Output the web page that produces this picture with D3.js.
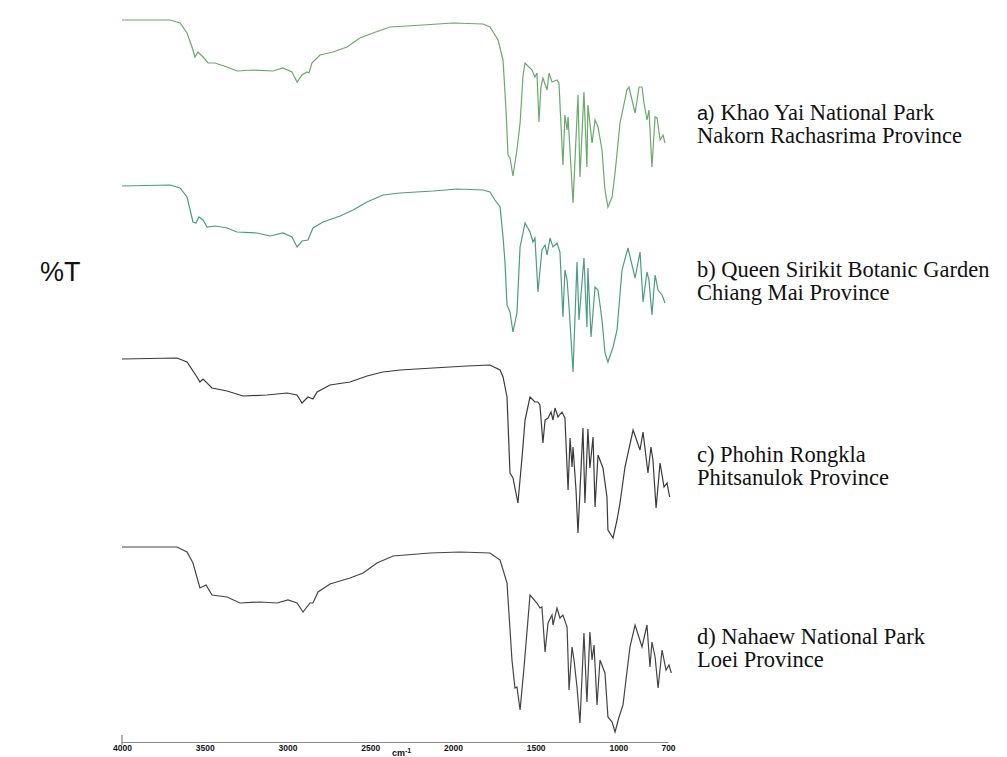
<!DOCTYPE html>
<html>
<head>
	<title>FT-IR spectra</title>
	<script src="https://d3js.org/d3.v7.min.js"></script>
	<style>
		body { margin: 0; background: #fff; }
		svg { display: block; }
	</style>
</head>
<body>
	<svg width="1007" height="757"></svg>

<script type="text/javascript">
	// wavenumbers (cm-1) and %T
	const wnA = [4000,3831,3710,3649,3607,3577,3559,3541,3510,3480,3438,3365,3305,3208,3087,3027,2973,2942,2912,2882,2870,2852,2803,2725,2640,2562,2483,2380,2277,2181,2000,1818,1776,1727,1697,1679,1667,1655,1637,1613,1594,1576,1564,1522,1504,1492,1480,1468,1456,1431,1419,1401,1371,1359,1335,1323,1310,1304,1274,1244,1232,1208,1190,1184,1159,1141,1123,1099,1081,1063,1038,1020,990,948,936,899,875,857,845,827,815,797,778,766,748,730,718];
	const tA  = [97.5,97.5,97.5,96,91,84,79,81.5,79,76,76,74,72,72.5,72,73.5,71.5,66.5,70,71.5,71,76,80,81.5,84,88.5,91,94,94.5,95,96,95.5,94,87.5,77.5,52.5,30,28.5,19.5,32.5,46,70,76,72.5,69,71,46.5,64,68.5,62.5,71,66.5,67.5,66,25,50,42.5,49,6,60,19,61.5,24,55,36,47.5,44,32.5,12.5,4,9,21,46,62.5,64,51,64,64,56,47.5,52.5,24,49,48.5,37.5,40,36];

	const wnB = [4000,3710,3649,3607,3571,3553,3535,3510,3486,3438,3365,3305,3184,3105,3027,2973,2942,2912,2876,2846,2785,2682,2604,2519,2423,2320,2120,1975,1818,1776,1746,1715,1697,1685,1673,1655,1637,1613,1594,1564,1534,1516,1504,1486,1462,1443,1431,1413,1395,1371,1353,1335,1323,1310,1298,1274,1250,1238,1208,1190,1184,1165,1141,1123,1099,1081,1063,1032,1008,978,942,899,869,851,827,815,797,778,760,736,718];
	const tB  = [97,97.5,96,91.5,79,78.5,81.5,80,76.5,77,76,74,73.5,72,73.5,71.5,66.5,69.5,70,76,79,82,85,89,92.5,93.5,94.5,95.5,95,94,90,86.5,71.5,58.5,37.5,34,24,33.5,66.5,78.5,74,69,71,44,65,67.5,62.5,71,66.5,68.5,64,31.5,55,50,36.5,4,59,30,61,26.5,56,21.5,46.5,45,30,13.5,9,16.5,25,55,66,51,64,39,54,50,32.5,52.5,45,42.5,38.5];

	const wnC = [4000,3668,3607,3547,3529,3510,3456,3365,3269,3124,3003,2942,2912,2876,2846,2821,2743,2622,2519,2423,2320,2120,1915,1776,1715,1697,1673,1655,1637,1607,1582,1564,1534,1504,1486,1474,1456,1443,1425,1407,1395,1383,1365,1341,1323,1304,1292,1280,1274,1256,1244,1214,1202,1184,1172,1153,1141,1123,1093,1069,1063,1032,1008,990,960,911,869,851,821,803,791,772,748,724,706,690];
	const tC  = [98,98.5,96.5,89,86.5,88,83.5,82,79.5,80,81,80,76,79,78,81.5,85,86.5,89.5,91.5,92.5,93.5,94.5,95,92.5,89,79,41,38.5,26,49,67.5,79,76.5,76.5,75,56,67.5,68.5,71.5,67.5,73.5,69,71.5,68.5,32.5,58.5,44,54,32.5,11,63.5,26,63,43.5,59,24,50,43.5,29,12.5,8.5,17.5,26,44,62.5,52.5,61.5,41,54,47.5,23.5,46,34,36,29];

	const wnD = [4000,3952,3668,3607,3571,3529,3492,3456,3365,3287,3166,3063,2997,2942,2906,2864,2846,2815,2743,2622,2543,2459,2362,2138,1957,1776,1715,1673,1643,1625,1613,1594,1570,1534,1492,1474,1462,1443,1425,1401,1395,1371,1353,1335,1310,1298,1280,1268,1250,1232,1208,1190,1172,1159,1147,1129,1111,1081,1063,1038,1020,996,972,954,930,899,857,827,809,797,778,760,736,712,694,680];
	const tD  = [96.5,96.5,96.5,94,88.5,76,77.5,72.5,71.5,68.5,69,68.5,70,68.5,64,68.5,68.5,74,78,81,83.5,88.5,92,93.5,94,93.5,90,78.5,40,26,26.5,15,36.5,72.5,68.5,66,66.5,44,58.5,62.5,57.5,66,61,62.5,56.5,25,46.5,40,26.5,8.5,53.5,19,54,40,47.5,17.5,40,33.5,11.5,9,4,11.5,17.5,30,46.5,57.5,46.5,57.5,36.5,49,41.5,26,45,35,37.5,33.5];

	const labelLine1 = ["Khao Yai National Park", "Queen Sirikit Botanic Garden", "Phohin Rongkla", "Nahaew National Park"];
	const labelLine2 = ["Nakorn Rachasrima Province", "Chiang Mai Province", "Phitsanulok Province", "Loei Province"];
	const labelTags = ["a)", "b)", "c)", "d)"];
	const xTicks = [4000, 3500, 3000, 2500, 2000, 1500, 1000, 700];

	const svg = d3.select("svg");
	svg.append("rect").attr("width", 1007).attr("height", 757).attr("fill", "#fff");

	const xscale = d3.scaleLinear().domain([4000, 700]).range([122, 668]);

	// each trace gets its own vertical band
	const panels = [
		{wn: wnA, t: tA, top: 15,  color: "#6aa86c"},
		{wn: wnB, t: tB, top: 180, color: "#4c9c84"},
		{wn: wnC, t: tC, top: 355, color: "#3a3a3a"},
		{wn: wnD, t: tD, top: 540, color: "#444444"}
	];

	panels.forEach(function(p, i) {
		const yscale = d3.scaleLinear().domain([0, 100]).range([p.top + 200, p.top]);
		const line = d3.line()
			.x((d, j) => xscale(p.wn[j]))
			.y(d => yscale(d));
		svg.append("path")
			.attr("d", line(p.t))
			.attr("fill", "none")
			.attr("stroke", p.color)
			.attr("stroke-width", 1.2);
	});

	// sample labels
	const serif = "'Liberation Serif', 'Times New Roman', serif";
	const labelY = [120, 277, 462, 644];
	labelY.forEach(function(y, i) {
		const t = svg.append("text")
			.attr("x", 697).attr("y", y)
			.style("font-family", serif)
			.style("font-size", "22.5px")
			.attr("fill", "#111");
		if (i == 0) {
			t.append("tspan").style("font-family", "'Liberation Sans', Arial, sans-serif").style("font-size", "20px").text(labelTags[i]);
			t.append("tspan").text(" " + labelLine1[i]);
		} else {
			t.text(labelTags[i] + " " + labelLine1[i]);
		}
		svg.append("text")
			.attr("x", 697).attr("y", y + 23)
			.style("font-family", serif)
			.style("font-size", "22.5px")
			.attr("fill", "#111")
			.text(labelLine2[i]);
	});

	svg.append("text")
		.attr("x", 40).attr("y", 281)
		.style("font-family", "'Liberation Sans', Arial, sans-serif")
		.style("font-size", "27px")
		.attr("fill", "#111")
		.text("%T");

	// x axis
	const xAxis = d3.axisBottom(xscale).tickValues(xTicks).tickSize(0).tickPadding(3).tickFormat(d3.format("d"));
	const gx = svg.append("g").attr("transform", "translate(0,742)").call(xAxis);
	gx.select(".domain").attr("stroke", "#888").attr("stroke-width", 1.2);
	gx.selectAll("text")
		.style("font-family", "'Liberation Sans', Arial, sans-serif")
		.style("font-size", "8.5px")
		.style("font-weight", "bold")
		.attr("fill", "#111");
	svg.append("line")
		.attr("x1", xscale(4000)).attr("x2", xscale(4000))
		.attr("y1", 735).attr("y2", 745)
		.attr("stroke", "#666");

	const unit = svg.append("text")
		.attr("x", 392).attr("y", 756)
		.style("font-family", "'Liberation Sans', Arial, sans-serif")
		.style("font-size", "9px")
		.style("font-weight", "bold")
		.attr("fill", "#111")
		.text("cm");
	unit.append("tspan").attr("dy", -3).style("font-size", "7px").text("-1");
</script>
</body>
</html>
